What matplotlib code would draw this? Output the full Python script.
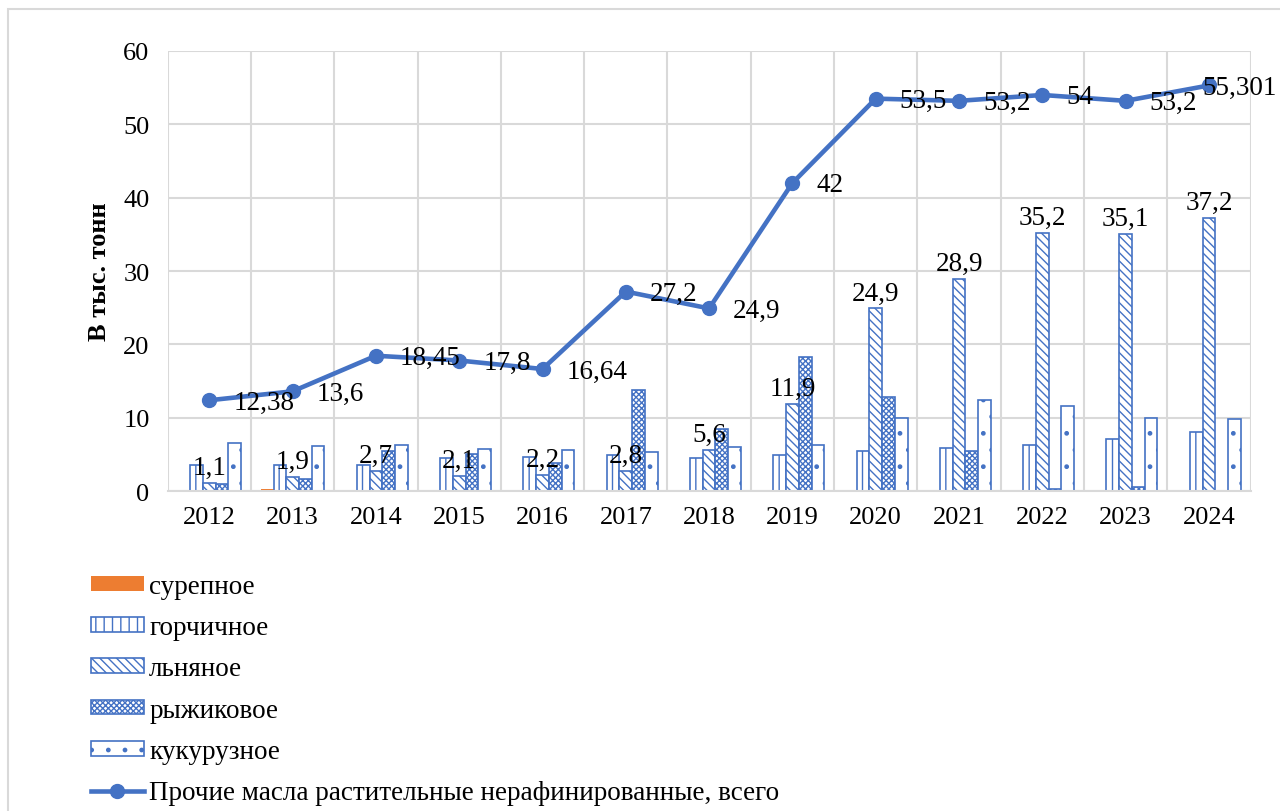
import matplotlib.pyplot as plt
import numpy as np
from matplotlib.patches import Rectangle

plt.rcParams['font.family'] = ['Liberation Serif', 'DejaVu Serif']
plt.rcParams['hatch.linewidth'] = 1.0

years = ['2012', '2013', '2014', '2015', '2016', '2017', '2018',
         '2019', '2020', '2021', '2022', '2023', '2024']
surepnoe = [0.05, 0.3, 0.02, 0.05, 0.0, 0.05, 0.03, 0.2, 0.2, 0.2, 0.2, 0.2, 0.0]
gorchichnoe = [3.5, 3.5, 3.6, 4.5, 4.7, 4.9, 4.5, 4.95, 5.4, 5.9, 6.3, 7.1, 8.0]
lnyanoe = [1.1, 1.9, 2.7, 2.1, 2.2, 2.8, 5.6, 11.9, 24.9, 28.9, 35.2, 35.1, 37.2]
ryzhikovoe = [0.9, 1.6, 5.5, 5.1, 3.8, 13.8, 8.4, 18.3, 12.8, 5.5, 0.3, 0.6, 0.0]
kukuruznoe = [6.6, 6.1, 6.3, 5.8, 5.6, 5.3, 6.0, 6.3, 9.9, 12.4, 11.6, 9.9, 9.8]
total = [12.38, 13.6, 18.45, 17.8, 16.64, 27.2, 24.9, 42, 53.5, 53.2, 54, 53.2, 55.301]

names = ['сурепное', 'горчичное', 'льняное', 'рыжиковое', 'кукурузное']
line_name = 'Прочие масла растительные нерафинированные, всего'

blue = '#4472C4'
orange = '#ED7D31'


def fmt(v):
    return f'{v:g}'.replace('.', ',')


fig = plt.figure(figsize=(12.8, 8.12), dpi=100)
ax = fig.add_axes([0.131, 0.394, 0.846, 0.542])

x = np.arange(len(years))
w = 0.153
series = [surepnoe, gorchichnoe, lnyanoe, ryzhikovoe, kukuruznoe]
hatches = [None, '||', '\\\\\\\\', 'xxxxxx', '.']
handles = []
for i, (vals, h) in enumerate(zip(series, hatches)):
    pos = x + (i - 2) * w
    if i == 0:
        b = ax.bar(pos, vals, w, color=orange, edgecolor=orange, linewidth=0,
                   label=names[i], zorder=2)
    else:
        b = ax.bar(pos, vals, w, color='white', edgecolor=blue, hatch=h,
                   linewidth=1.2, label=names[i], zorder=2)
    handles.append(b)

for xi, v in zip(x, lnyanoe):
    ax.annotate(fmt(v), (xi, v), xytext=(0, 3), textcoords='offset pixels',
                ha='center', va='bottom', fontsize=19.5, zorder=5)

ln, = ax.plot(x, total, color=blue, linewidth=3.3, marker='o', markersize=10,
              label=line_name, zorder=4)
handles.append(ln)

for xi, v in zip(x, total):
    if xi == len(years) - 1:
        # last label is pushed left so it stays inside the chart
        ax.annotate(fmt(v), (xi, v), xytext=(68, -2), textcoords='offset pixels',
                    ha='right', va='center', fontsize=19.5, zorder=5)
    else:
        ax.annotate(fmt(v), (xi, v), xytext=(24, -2), textcoords='offset pixels',
                    ha='left', va='center', fontsize=19.5, zorder=5)

ax.set_xlim(-0.5, len(years) - 0.5)
ax.set_ylim(0, 60)
ax.set_yticks(range(0, 61, 10))
ax.set_xticks(x)
ax.set_xticklabels(years)
ax.set_xticks(np.arange(-0.5, len(years), 1), minor=True)
ax.tick_params(axis='both', which='both', length=0, labelsize=19)
ax.tick_params(axis='x', pad=11)
ax.tick_params(axis='y', pad=13)
ax.grid(axis='y', which='major', color='#d9d9d9', linewidth=1.5, zorder=0)
ax.grid(axis='x', which='minor', color='#d9d9d9', linewidth=1.5, zorder=0)
ax.set_axisbelow(True)
for s in ax.spines.values():
    s.set_visible(False)
ax.spines['bottom'].set_visible(True)
ax.spines['bottom'].set_color('#d9d9d9')
ax.spines['bottom'].set_linewidth(1.5)

ax.set_ylabel('В тыс. тонн', fontsize=19, fontweight='bold', labelpad=9)

fig.legend(handles=handles, labels=names + [line_name], loc='upper left',
           bbox_to_anchor=(0.071, 0.292), frameon=False, fontsize=19.5,
           handlelength=1.95, handleheight=0.45, handletextpad=0.2,
           labelspacing=0.6, borderpad=0, borderaxespad=0)

fig.patches.append(Rectangle((8 / 1280, -0.1), 1.2, 1 - 10 / 812 + 0.1,
                             transform=fig.transFigure, fill=False,
                             edgecolor='#d9d9d9', linewidth=1.5))

fig.savefig('out.png', dpi=100)
